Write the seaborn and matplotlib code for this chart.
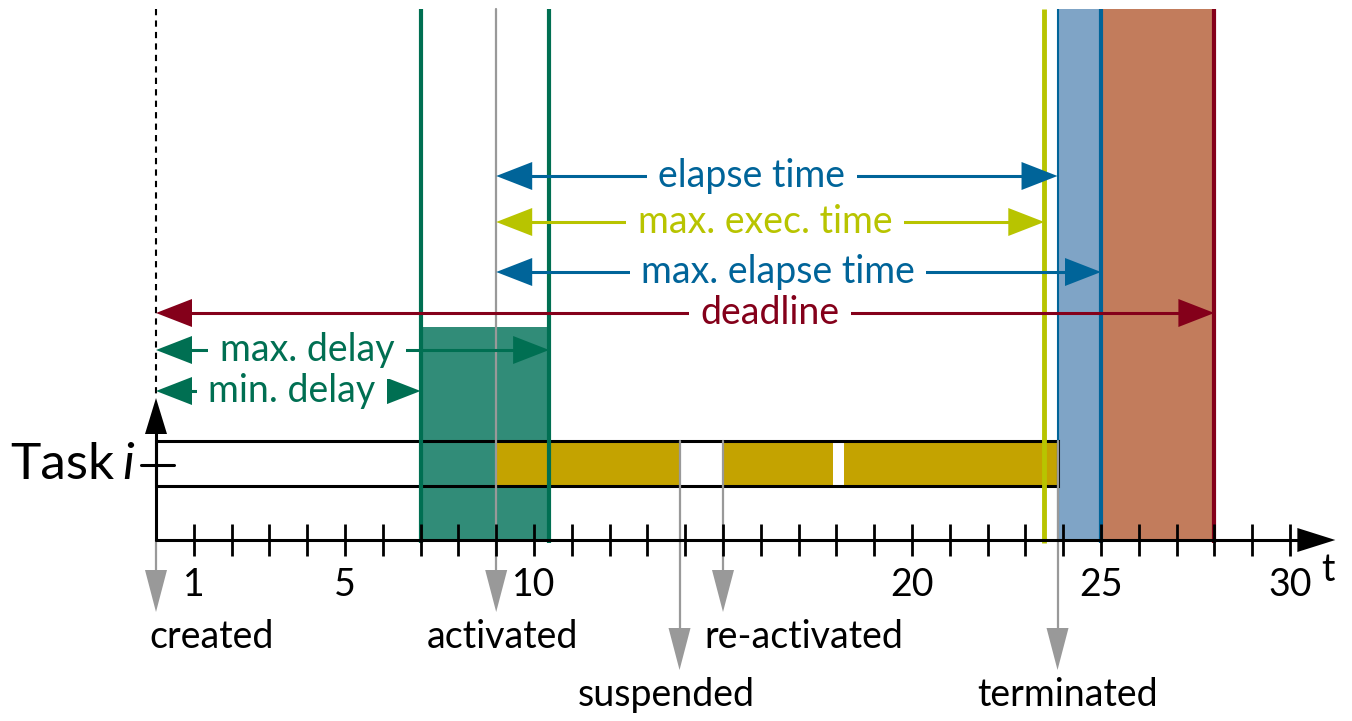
import matplotlib.pyplot as plt
from matplotlib.patches import Polygon, Rectangle
import seaborn as sns

# Timeline data (time units)
event_names = ['created', 'activated', 'suspended', 're-activated', 'terminated']
event_times = [0, 9, 13.85, 15, 23.85]
run_starts = [9, 15, 18.2]
run_ends = [13.85, 17.9, 23.85]
min_delay = 7
max_delay = 10.4
max_exec_end = 23.5
max_elapse_end = 25
deadline = 28
tick_values = list(range(1, 31))
tick_labels = [1, 5, 10, 20, 25, 30]

# colours
GREEN, GREEN_FILL = '#006f52', '#318c78'
GOLD = '#c4a300'
LIME = '#b8c400'
BLUE, BLUE_FILL = '#006499', '#7fa4c6'
RUST = '#c27c5c'
DRED = '#84001a'
GRAY = '#999999'

sns.set_theme(style='white')
plt.rcParams['font.family'] = ['Lato', 'DejaVu Sans']
plt.rcParams['text.color'] = 'black'
FS = 27

fig = plt.figure(figsize=(13.52, 7.21), dpi=100)
ax = fig.add_axes([0, 0, 1, 1])
X0, S = 156, 37.8   # pixel of t=0, pixels per time unit
ax.set_xlim(-X0 / S, (1352 - X0) / S)
ax.set_ylim(721, 0)
ax.axis('off')

TOP, AXIS_Y = 9, 540
BAR_TOP, BAR_BOT = 441, 486


def hx(px):
    return px / S


def head(x, y, d, color, L=36, W=28, vertical=False, z=6):
    if vertical:
        pts = [(x, y), (x - hx(W / 2), y - d * L), (x + hx(W / 2), y - d * L)]
    else:
        pts = [(x, y), (x - d * hx(L), y - W / 2), (x - d * hx(L), y + W / 2)]
    ax.add_patch(Polygon(pts, closed=True, fc=color, ec='none', zorder=z))


def span_arrow(x1, x2, y, label, color, tx):
    ax.plot([x1 + hx(20), x2 - hx(20)], [y, y], color=color, lw=2.2, zorder=6,
            solid_capstyle='butt')
    head(x1, y, -1, color)
    head(x2, y, 1, color)
    # white gap in the line behind the label, then the label itself on top
    ax.text(tx, y, label, color='none', ha='center', va='center', fontsize=FS, zorder=6.5,
            bbox=dict(boxstyle='square,pad=0.3', fc='white', ec='none'))
    ax.text(tx, y, label, color=color, ha='center', va='center', fontsize=FS, zorder=7)


# shaded regions
ax.add_patch(Rectangle((event_times[-1], TOP), max_elapse_end - event_times[-1], AXIS_Y - TOP,
                       fc=BLUE_FILL, ec='none', zorder=1))
ax.add_patch(Rectangle((max_elapse_end, TOP), deadline - max_elapse_end, AXIS_Y - TOP,
                       fc=RUST, ec='none', zorder=1))

# task bar
ax.add_patch(Rectangle((0, BAR_TOP), event_times[-1], BAR_BOT - BAR_TOP, fc='white', ec='none', zorder=1))
ax.add_patch(Rectangle((min_delay, 327), max_delay - min_delay, AXIS_Y - 327,
                       fc=GREEN_FILL, ec='none', zorder=2))
for s, e in zip(run_starts, run_ends):
    ax.add_patch(Rectangle((s, BAR_TOP), e - s, BAR_BOT - BAR_TOP, fc=GOLD, ec='none', zorder=3))
ax.add_patch(Rectangle((0, BAR_TOP), event_times[-1], BAR_BOT - BAR_TOP, fill=False,
                       ec='black', lw=2.2, zorder=4))

# vertical markers
ax.vlines([min_delay, max_delay], TOP, 543, color=GREEN, lw=3, zorder=4.5)
ax.vlines(max_exec_end, TOP, 543, color=LIME, lw=3.5, zorder=4.5)
ax.vlines(event_times[-1], TOP, AXIS_Y, color=BLUE, lw=1.5, zorder=4.5)
ax.vlines(max_elapse_end, TOP, 543, color=BLUE, lw=3, zorder=4.5)
ax.vlines(deadline, TOP, 543, color=DRED, lw=3, zorder=4.5)
ax.plot([0, 0], [TOP, 398], color='black', lw=1.5, ls=(0, (3, 2.5)), zorder=5)

# axes
ax.plot([0, 0], [AXIS_Y, 430], color='black', lw=2.2, zorder=5)
head(0, 398, -1, 'black', L=36, W=22, vertical=True, z=5)
axis_end = 31.2
ax.plot([0, axis_end - hx(36)], [AXIS_Y, AXIS_Y], color='black', lw=2.2, zorder=5)
head(axis_end, AXIS_Y, 1, 'black', L=38, W=24, z=5)
ax.vlines(tick_values, 524, 556, color='black', lw=2, zorder=5)
for v in tick_labels:
    ax.text(v, 585, str(v), ha='center', va='center', fontsize=FS)
ax.text(hx(1328 - X0), 570, 't', ha='center', va='center', fontsize=FS)
ax.plot([hx(-15), hx(18)], [465, 465], color='black', lw=2.2, zorder=5)
ax.text(hx(10 - X0), 465, 'Task', ha='left', va='center', fontsize=37)
ax.text(hx(134 - X0), 465, 'i', ha='right', va='center', fontsize=37, style='italic')

# event arrows
arrow_top = [AXIS_Y, TOP, BAR_TOP, BAR_TOP, BAR_TOP]
arrow_tip = [612, 612, 670, 612, 670]
label_dx = [56, 6, -13, 81, 10]
for t, name, y0, y1, dx in zip(event_times, event_names, arrow_top, arrow_tip, label_dx):
    ax.plot([t, t], [y0, y1 - 30], color=GRAY, lw=1.6, zorder=4.6)
    head(t, y1, 1, GRAY, L=42, W=22, vertical=True, z=4.6)
    ax.text(t + hx(dx), y1 + 25, name, ha='center', va='center', fontsize=FS)

# interval arrows
span_arrow(event_times[1], event_times[-1], 176, 'elapse time', BLUE, hx(752 - X0))
span_arrow(event_times[1], max_exec_end, 222, 'max. exec. time', LIME, hx(765 - X0))
span_arrow(event_times[1], max_elapse_end, 272, 'max. elapse time', BLUE, hx(778 - X0))
span_arrow(0, deadline, 313, 'deadline', DRED, hx(770 - X0))
span_arrow(0, max_delay, 350, 'max. delay', GREEN, hx(307 - X0))
span_arrow(0, min_delay, 391, 'min. delay', GREEN, hx(292 - X0))

fig.savefig('out.png', dpi=100)
